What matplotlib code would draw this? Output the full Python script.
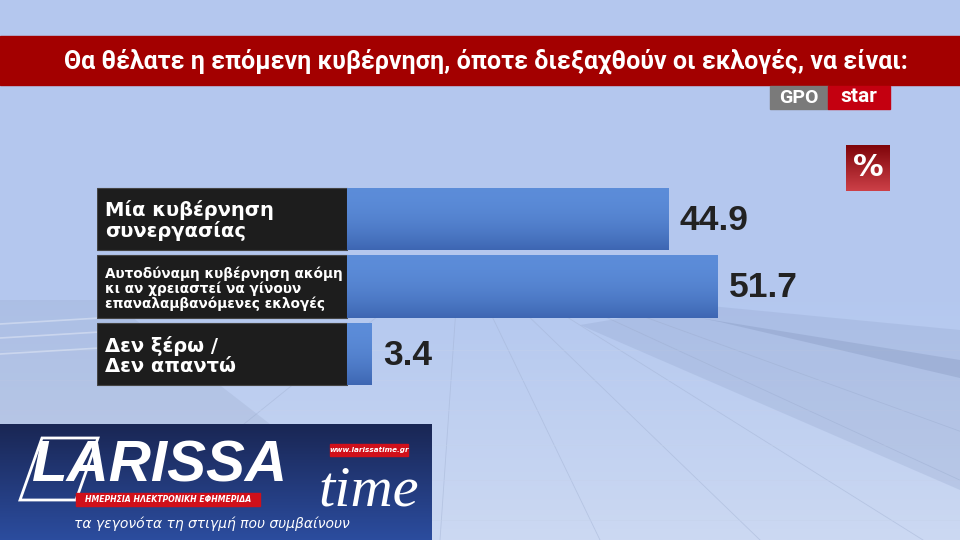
import numpy as np
import matplotlib.pyplot as plt
from matplotlib.patches import Rectangle, Polygon

# Poll data
categories = [
    "Μία κυβέρνηση\nσυνεργασίας",
    "Αυτοδύναμη κυβέρνηση ακόμη\nκι αν χρειαστεί να γίνουν\nεπαναλαμβανόμενες εκλογές",
    "Δεν ξέρω /\nΔεν απαντώ",
]
values = [44.9, 51.7, 3.4]
label_sizes = [14, 9.8, 14]
title = "Θα θέλατε η επόμενη κυβέρνηση, όποτε διεξαχθούν οι εκλογές, να είναι:"

W, H = 960, 540
fig = plt.figure(figsize=(9.6, 5.4), dpi=100)
fig.patch.set_facecolor("#b4c8ef")

# Background layer in pixel coordinates
bg = fig.add_axes([0, 0, 1, 1])
bg.set_xlim(0, W)
bg.set_ylim(H, 0)
bg.axis("off")

# floor gradient
grad = np.linspace(0, 1, 200).reshape(-1, 1)
floor = np.ones((200, 1, 3))
top_c = np.array([0.706, 0.784, 0.937])
bot_c = np.array([0.80, 0.85, 0.95])
floor[:] = top_c + (bot_c - top_c) * grad[:, :, None]
bg.imshow(floor, extent=[0, W, H, 300], aspect="auto", zorder=0)
bg.imshow(np.ones((2, 2, 3)) * top_c, extent=[0, W, 300, 0], aspect="auto", zorder=0)

# perspective floor lines
vx, vy = 460, 250
for ex in [100, 440, 600, 760, 923, 1090, 1260]:
    t = (310 - vy) / (H - vy)
    bg.plot([vx + (ex - vx) * t, ex], [310, H], color="#a3b3d4", lw=0.6, alpha=0.5, zorder=1)
for yy in [350, 380, 410, 445, 480, 520]:
    bg.plot([0, W], [yy, yy], color="#c4d1ec", lw=0.6, alpha=0.5, zorder=1)
# soft shadows beside the bars
bg.add_patch(Polygon([[700, 305], [960, 330], [960, 490], [580, 325]],
                     closed=True, color="#8ea0c8", alpha=0.25, lw=0, zorder=1))
bg.add_patch(Polygon([[700, 318], [960, 360], [960, 378], [720, 322]],
                     closed=True, color="#7e90b8", alpha=0.3, lw=0, zorder=1))
bg.add_patch(Polygon([[0, 300], [110, 300], [270, 424], [0, 424]],
                     closed=True, color="#8d9cbd", alpha=0.2, lw=0, zorder=1))
for yy in [318, 332, 348]:
    bg.plot([0, 100], [yy + 6, yy], color="white", lw=1.2, alpha=0.35, zorder=1)

# title band
bg.add_patch(Rectangle((0, 36), W, 49, color="#a30000", zorder=2))
bg.text(486, 61, title, color="white", fontsize=18, fontweight="bold",
        family="Roboto", ha="center", va="center", zorder=3)

# GPO / star logo
bg.add_patch(Rectangle((770, 86), 58, 23, color="#7a7a7a", zorder=2))
bg.add_patch(Rectangle((828, 86), 62, 23, color="#c40010", zorder=2))
bg.text(799, 98, "GPO", color="white", fontsize=14, fontweight="bold",
        ha="center", va="center", family="Roboto", zorder=3)
bg.text(859, 97, "star", color="white", fontsize=15, fontweight="bold",
        ha="center", va="center", family="Roboto", zorder=3)

# percent box
pct = np.linspace(0, 1, 50).reshape(-1, 1)
p1 = np.array([0.50, 0.02, 0.04])
p2 = np.array([0.80, 0.25, 0.28])
pct_img = np.zeros((50, 1, 3))
pct_img[:] = p1 + (p2 - p1) * pct[:, :, None]
bg.imshow(pct_img, extent=[846, 890, 191, 145], aspect="auto", zorder=2)
bg.text(868, 168, "%", color="white", fontsize=22, fontweight="bold",
        ha="center", va="center", zorder=3)

# Bars
scale = 7.16  # px per percentage point
x0_px, bar0_px = 97, 347
label_w = (bar0_px - x0_px) / scale
top_px, bot_px = 185, 388
ax = fig.add_axes([x0_px / W, 1 - bot_px / H, (W - x0_px) / W, (bot_px - top_px) / H])
ax.set_xlim(-label_w, (W - bar0_px) / scale)
ax.set_ylim(len(values) - 0.5, -0.5)
ax.axis("off")
ax.patch.set_alpha(0)

ypos = np.arange(len(values))
bh = 0.92
boxes = ax.barh(ypos, label_w, left=-label_w, height=bh, color="#1d1d1d",
                edgecolor="#444444", lw=0.8, zorder=2)
bars = ax.barh(ypos, values, height=bh, color="#4d7dcc", zorder=2)

g = np.linspace(0, 1, 100).reshape(-1, 1)
bar_img = np.zeros((100, 1, 3))
c1 = np.array([0.36, 0.55, 0.85])
c2 = np.array([0.24, 0.40, 0.70])
bar_img[:] = c1 + (c2 - c1) * (g[:, :, None] ** 2)
for b, v, y in zip(bars, values, ypos):
    im = ax.imshow(bar_img, extent=[0, v, y + bh / 2, y - bh / 2], aspect="auto", zorder=3)
    im.set_clip_path(b)
    ax.text(v + 1.6, y + 0.02, f"{v:.1f}", fontsize=25.5, fontweight="bold",
            color="#222222", family="Liberation Sans", va="center", ha="left", zorder=4)

for lab, fs, y in zip(categories, label_sizes, ypos):
    ax.text(-label_w + 1.1, y + 0.03, lab, fontsize=fs, fontweight="bold", color="white",
            va="center", ha="left", linespacing=1.05, zorder=4)

# Larissa time logo box
lg = np.linspace(0, 1, 60).reshape(-1, 1)
l1 = np.array([0.10, 0.15, 0.33])
l2 = np.array([0.17, 0.30, 0.62])
logo_img = np.zeros((60, 1, 3))
logo_img[:] = l1 + (l2 - l1) * lg[:, :, None]
bg.imshow(logo_img, extent=[0, 432, H, 424], aspect="auto", zorder=5)
bg.add_patch(Polygon([[42, 438], [98, 438], [76, 500], [20, 500]], closed=True,
                     fill=False, edgecolor="white", lw=2, zorder=6))
bg.text(32, 482, "LARISSA", color="white", fontsize=42, fontweight="bold", style="italic",
        family="Liberation Sans", va="baseline", ha="left", zorder=6)
bg.text(318, 506, "time", color="white", fontsize=42, style="italic",
        family="Liberation Serif", va="baseline", ha="left", zorder=6)
bg.add_patch(Rectangle((330, 444), 78, 12, color="#d0101a", zorder=6))
bg.text(369, 450, "www.larissatime.gr", color="white", fontsize=5.2, fontweight="bold",
        style="italic", ha="center", va="center", zorder=7)
bg.add_patch(Rectangle((76, 493), 184, 13, color="#d0101a", zorder=6))
bg.text(168, 500, "ΗΜΕΡΗΣΙΑ ΗΛΕΚΤΡΟΝΙΚΗ ΕΦΗΜΕΡΙΔΑ", color="white", fontsize=5.6,
        fontweight="bold", style="italic", ha="center", va="center", zorder=7)
bg.text(212, 524, "τα γεγονότα τη στιγμή που συμβαίνουν", color="white", fontsize=10,
        style="italic", ha="center", va="center", zorder=6)

fig.savefig("out.png", dpi=100)
